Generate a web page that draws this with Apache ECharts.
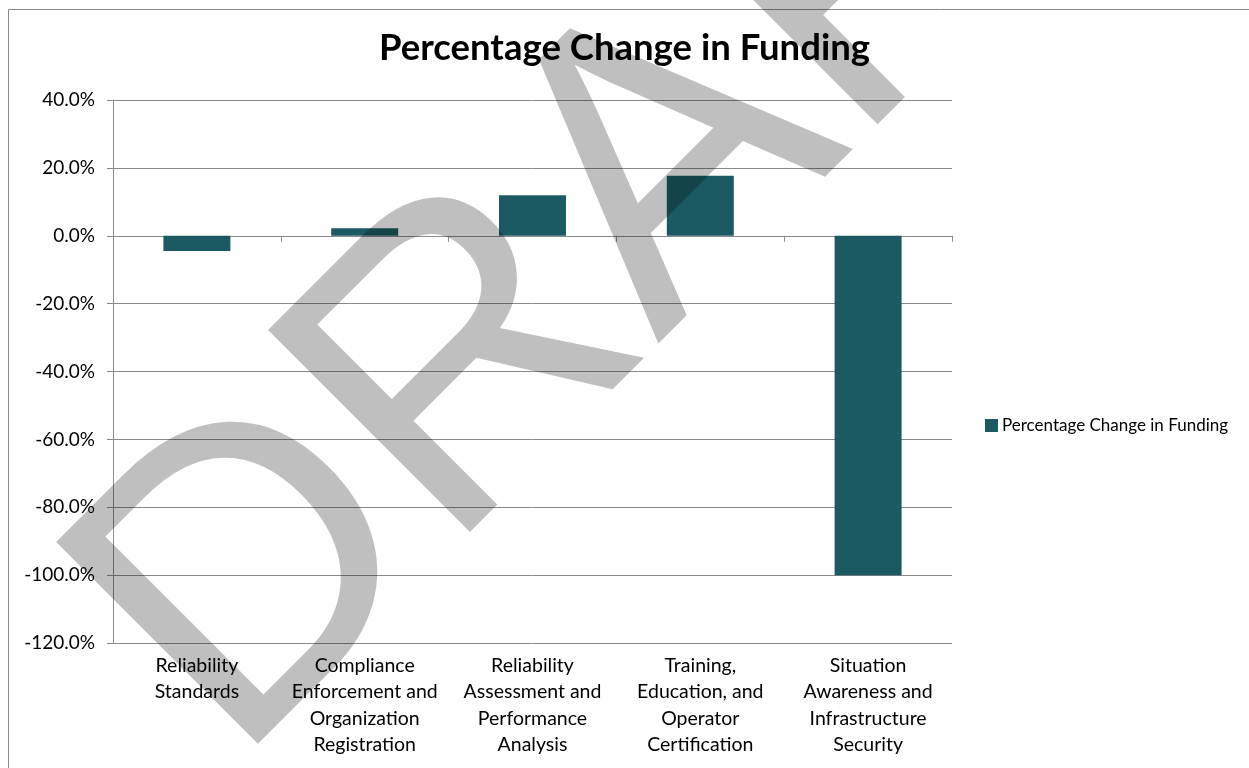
<!DOCTYPE html>
<html>
<head>
<meta charset="utf-8">
<script src="https://cdn.jsdelivr.net/npm/echarts@6/dist/echarts.min.js"></script>
<style>
html,body{margin:0;padding:0;background:#fff;}
#chart{width:1249px;height:768px;}
</style>
</head>
<body>
<div id="chart"></div>
<script>
const categories = [
  "Reliability\nStandards",
  "Compliance\nEnforcement and\nOrganization\nRegistration",
  "Reliability\nAssessment and\nPerformance\nAnalysis",
  "Training,\nEducation, and\nOperator\nCertification",
  "Situation\nAwareness and\nInfrastructure\nSecurity"
];
const seriesName = "Percentage Change in Funding";
const pctChange = [-4.5, 2.2, 11.9, 17.7, -100.0];
const yMin = -120, yMax = 40, yStep = 20;
const titleText = "Percentage Change in Funding";
const watermarkText = "DRAFT";

const chart = echarts.init(document.getElementById('chart'), null, {renderer: 'canvas'});
const gridColor = '#8a8a8a';
const option = {
  backgroundColor: '#ffffff',
  animation: false,
  title: {
    text: titleText,
    left: 'center',
    top: 30,
    padding: 0,
    textStyle: {fontFamily: 'Lato', fontWeight: 'bold', fontSize: 36.5, color: '#000'}
  },
  legend: {
    data: [seriesName],
    left: 985,
    top: 417,
    icon: 'rect',
    itemWidth: 13,
    itemHeight: 13,
    itemGap: 4,
    padding: 0,
    textStyle: {fontFamily: 'Lato', fontSize: 17, color: '#000', padding: [0,0,0,-1]}
  },
  grid: {left: 113, right: 297, top: 100, bottom: 125, containLabel: false},
  xAxis: [
    {
      type: 'category',
      data: categories,
      position: 'bottom',
      axisLine: {show: false, onZero: false},
      axisTick: {show: false},
      axisLabel: {
        interval: 0, margin: 9, color: '#000',
        fontFamily: 'Lato', fontSize: 19.5, lineHeight: 26.5, align: 'center'
      },
      splitLine: {show: false}
    },
    {
      type: 'category',
      data: categories,
      position: 'bottom',
      axisLine: {show: true, onZero: true, lineStyle: {color: gridColor, width: 1}},
      axisTick: {show: true, length: 6, alignWithLabel: false, lineStyle: {color: gridColor}},
      axisLabel: {show: false},
      splitLine: {show: false}
    }
  ],
  yAxis: {
    type: 'value',
    min: yMin, max: yMax, interval: yStep,
    axisLine: {show: true, lineStyle: {color: gridColor, width: 1}},
    axisTick: {show: true, inside: false, length: 6, lineStyle: {color: gridColor}},
    axisLabel: {
      margin: 18, color: '#000', fontFamily: 'Lato', fontSize: 19,
      formatter: v => v.toFixed(1) + '%'
    },
    splitLine: {show: true, lineStyle: {color: gridColor, width: 1}}
  },
  series: [{
    name: seriesName,
    type: 'bar',
    xAxisIndex: 0,
    data: pctChange,
    barWidth: 67,
    itemStyle: {color: '#1c5a63'}
  }],
  graphic: [
    {
      type: 'rect',
      z: 0,
      silent: true,
      shape: {x: 8.5, y: 9.5, width: 1300, height: 800},
      style: {fill: null, stroke: '#8a8a8a', lineWidth: 1}
    },
    {
      type: 'text',
      z: 100,
      silent: true,
      x: 153, y: 687,
      rotation: Math.PI / 4,
      style: {
        text: watermarkText,
        fill: 'rgba(0,0,0,0.25)',
        font: '415px "Liberation Sans", Arial, sans-serif',
        textAlign: 'left',
        textVerticalAlign: 'middle'
      }
    }
  ]
};
chart.setOption(option);
</script>
</body>
</html>
